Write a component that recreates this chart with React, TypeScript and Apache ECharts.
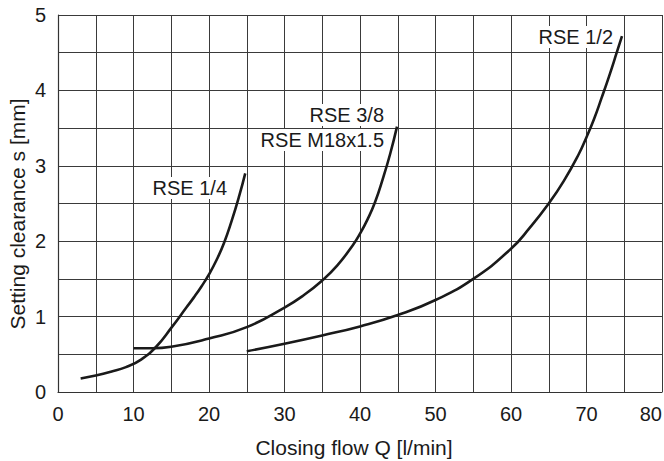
import React, { useEffect, useRef } from "react";
import * as echarts from "echarts";

const rse14: [number, number][] = [
  [3, 0.18], [5, 0.22], [7, 0.27], [9, 0.33], [11, 0.43], [13, 0.6], [15, 0.85],
  [17, 1.12], [18, 1.255], [19, 1.4], [20, 1.56], [21, 1.75], [22, 1.98],
  [23, 2.27], [24, 2.6], [24.8, 2.9],
];
const rse38: [number, number][] = [
  [10, 0.58], [12.5, 0.58], [15, 0.6], [20, 0.71], [25, 0.86], [30, 1.12],
  [32.5, 1.28], [35, 1.48], [37, 1.68], [39, 1.94], [40, 2.1], [41, 2.29],
  [42, 2.52], [43, 2.82], [44, 3.16], [44.9, 3.52],
];
const rse12: [number, number][] = [
  [25, 0.54], [30, 0.64], [35, 0.75], [40, 0.87], [45, 1.02], [50, 1.22],
  [55, 1.5], [60, 1.9], [62.5, 2.18], [65, 2.5], [67, 2.8], [69, 3.16],
  [70, 3.38], [71, 3.62], [72, 3.9], [73, 4.19], [74, 4.5], [74.7, 4.72],
];
const xTickLabels = [0, 10, 20, 30, 40, 50, 60, 70, 80];
const yTickLabels = [0, 1, 2, 3, 4, 5];
const curveLabels = [
  { text: "RSE 1/4", x: 229, y: 188 },
  { text: "RSE 3/8", x: 386, y: 115 },
  { text: "RSE M18x1.5", x: 386, y: 140 },
  { text: "RSE 1/2", x: 615, y: 37 },
];

const FONT = "'Liberation Sans', Arial, Helvetica, sans-serif";
const INK = "#1a1a1a";

export default function App() {
  const ref = useRef<HTMLDivElement>(null);
  useEffect(() => {
    if (!ref.current) return;
    const chart = echarts.init(ref.current, undefined, { renderer: "svg" });
    const lineSeries = (name: string, data: [number, number][]) => ({
      name,
      type: "line",
      data,
      smooth: 0.5,
      showSymbol: false,
      symbol: "none",
      lineStyle: { color: INK, width: 2.6 },
      z: 3,
    });
    chart.setOption({
      animation: false,
      backgroundColor: "#ffffff",
      grid: { left: 58, right: 2, top: 15, bottom: 69, containLabel: false, outerBoundsMode: "none" },
      xAxis: {
        type: "value",
        min: 0,
        max: 80,
        interval: 5,
        axisLine: { show: true, lineStyle: { color: "#333", width: 1.2 } },
        axisTick: { show: false },
        splitLine: { show: true, lineStyle: { color: "#3a3a3a", width: 1 } },
        axisLabel: {
          margin: 12,
          fontSize: 20,
          fontFamily: FONT,
          color: INK,
          alignMaxLabel: "right",
          formatter: (v: number) => (xTickLabels.includes(v) ? String(v) : ""),
        },
      },
      yAxis: {
        type: "value",
        min: 0,
        max: 5,
        interval: 0.5,
        axisLine: { show: true, lineStyle: { color: "#333", width: 1.2 } },
        axisTick: { show: false },
        splitLine: { show: true, lineStyle: { color: "#3a3a3a", width: 1 } },
        axisLabel: {
          margin: 12,
          fontSize: 20,
          fontFamily: FONT,
          color: INK,
          formatter: (v: number) => (yTickLabels.includes(v) ? String(v) : ""),
        },
      },
      graphic: [
        ...curveLabels.map((l) => ({
          type: "text",
          x: l.x,
          y: l.y,
          z: 10,
          style: {
            text: l.text,
            fontSize: 20,
            fontFamily: FONT,
            fill: INK,
            align: "right",
            verticalAlign: "middle",
            backgroundColor: "#ffffff",
            padding: [1, 2, 1, 2],
          },
        })),
        {
          type: "text",
          x: 354,
          y: 447,
          style: {
            text: "Closing flow Q [l/min]",
            fontSize: 21,
            fontFamily: FONT,
            fill: INK,
            align: "center",
            verticalAlign: "middle",
          },
        },
        {
          type: "text",
          x: 17,
          y: 214,
          rotation: Math.PI / 2,
          style: {
            text: "Setting clearance s [mm]",
            fontSize: 21,
            fontFamily: FONT,
            fill: INK,
            align: "center",
            verticalAlign: "middle",
          },
        },
      ],
      series: [
        lineSeries("RSE 1/4", rse14),
        lineSeries("RSE 3/8 / RSE M18x1.5", rse38),
        lineSeries("RSE 1/2", rse12),
      ],
    });
    return () => chart.dispose();
  }, []);
  return <div ref={ref} style={{ width: 664, height: 461, position: "absolute", left: 0, top: 0 }} />;
}
